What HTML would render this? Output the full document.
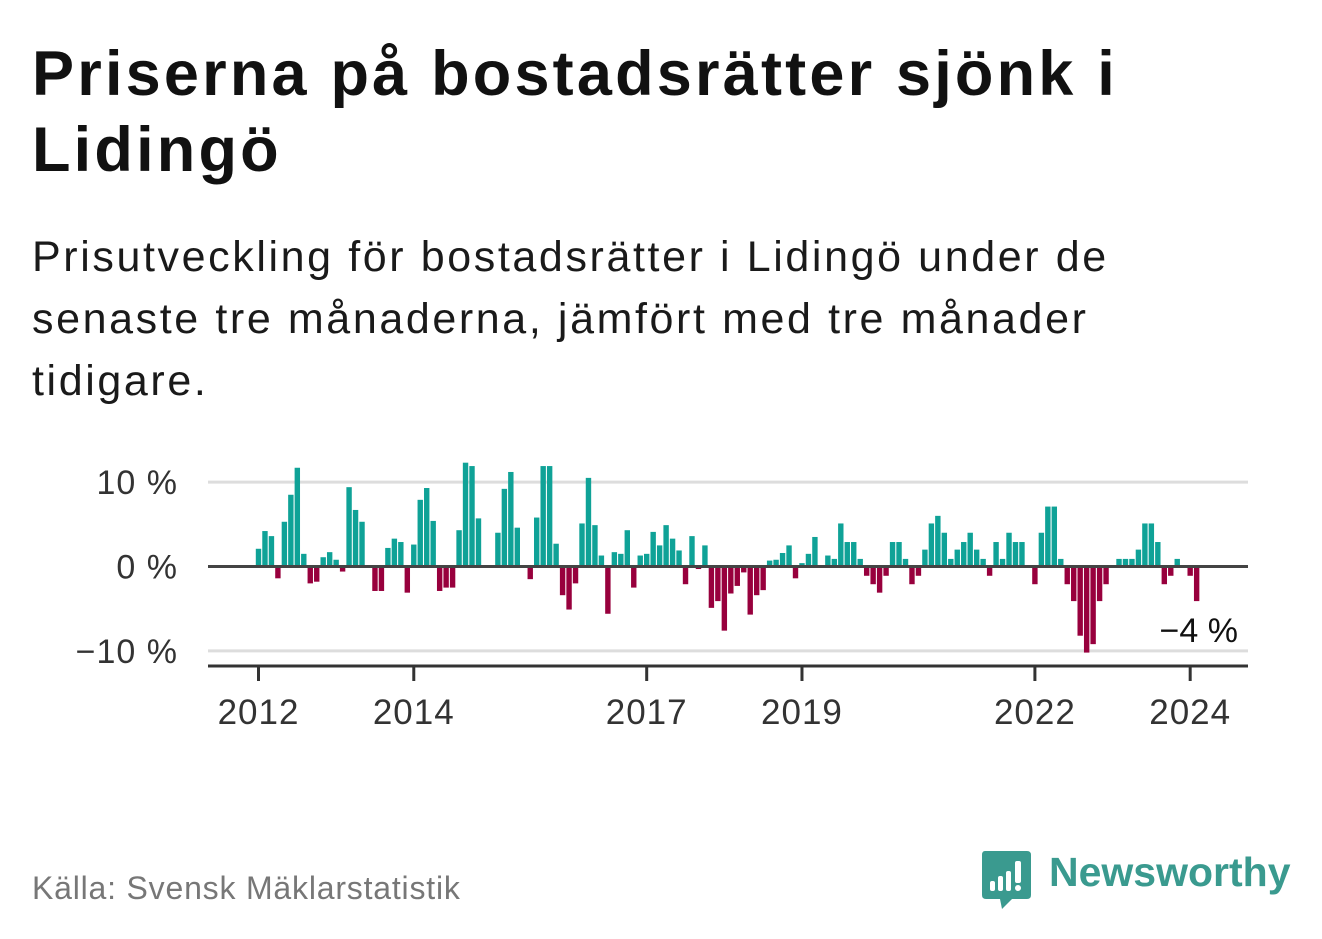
<!DOCTYPE html>
<html><head><meta charset="utf-8"><style>
body{margin:0;background:#fff;width:1322px;height:939px;overflow:hidden;font-family:"Liberation Sans","DejaVu Sans",sans-serif}
.t{position:absolute;left:32px;top:36px;font-size:63px;letter-spacing:3.2px;font-weight:bold;line-height:76px;color:#111;margin:0;white-space:nowrap}
.s{position:absolute;left:32px;top:226px;font-size:43px;letter-spacing:2.6px;line-height:62px;color:#1a1a1a;margin:0;white-space:nowrap}
.src{position:absolute;left:32px;top:870px;font-size:32px;letter-spacing:0.8px;color:#777}
</style></head><body>
<h1 class="t">Priserna på bostadsrätter sjönk i<br>Lidingö</h1>
<p class="s">Prisutveckling för bostadsrätter i Lidingö under de<br>senaste tre månaderna, jämfört med tre månader<br>tidigare.</p>
<svg id="chart" width="1322" height="939" style="position:absolute;left:0;top:0"></svg>
<div class="src">Källa: Svensk Mäklarstatistik</div>
<div style="position:absolute;left:982px;top:851px">
<svg width="50" height="58"><path d="M3 0H45Q49 0 49 4V44Q49 48 45 48H30L20 58L18 48H4Q0 48 0 44V4Q0 0 3 0Z" fill="#3a9a8f"/><rect x="8" y="30" width="5" height="10" rx="2" fill="#fff"/><rect x="16" y="25" width="5" height="15" rx="2" fill="#fff"/><rect x="24" y="20" width="5" height="20" rx="2" fill="#fff"/><rect x="33" y="10" width="6" height="22" rx="2" fill="#fff"/><circle cx="36" cy="37" r="3" fill="#fff"/></svg>
<span style="position:absolute;left:67px;top:-2px;font-size:41px;font-weight:bold;color:#3a9a8f;white-space:nowrap">Newsworthy</span>
</div>
<script>
const values=[2.1,4.2,3.6,-1.4,5.3,8.5,11.7,1.5,-2.0,-1.8,1.1,1.7,
0.8,-0.6,9.4,6.7,5.3,0,-2.9,-2.9,2.2,3.3,2.9,-3.1,
2.6,7.9,9.3,5.4,-2.9,-2.5,-2.5,4.3,12.3,11.9,5.7,0,
0,4.0,9.2,11.2,4.6,0,-1.5,5.8,11.9,11.9,2.7,-3.4,
-5.1,-2.0,5.1,10.5,4.9,1.3,-5.6,1.7,1.5,4.3,-2.5,1.3,
1.5,4.1,2.5,4.9,3.3,1.9,-2.1,3.6,-0.3,2.5,-4.9,-4.1,
-7.6,-3.2,-2.3,-0.7,-5.7,-3.4,-2.8,0.7,0.8,1.6,2.5,-1.4,
0.4,1.5,3.5,0,1.3,0.9,5.1,2.9,2.9,0.9,-1.1,-2.1,
-3.1,-1.1,2.9,2.9,0.9,-2.1,-1.1,2.0,5.1,6.0,4.0,0.9,
2.0,2.9,4.0,2.0,0.9,-1.1,2.9,0.9,4.0,2.9,2.9,0,
-2.1,4.0,7.1,7.1,0.9,-2.1,-4.1,-8.2,-10.2,-9.2,-4.1,-2.1,
0,0.9,0.9,0.9,2.0,5.1,5.1,2.9,-2.1,-1.1,0.9,0,
-1.1,-4.1];
const startYear=2012;
const yTicks=[10,0,-10];
const yTickLabels=["10 %","0 %","−10 %"];
const xTickYears=[2012,2014,2017,2019,2022,2024];
const svg=document.getElementById('chart');
const NS='http://www.w3.org/2000/svg';
const y0=566.5,pxPer=8.44,x0=258.5,mw=6.47;
const Y=v=>y0-v*pxPer;
const X=i=>x0+i*mw;
function mk(t,a){const e=document.createElementNS(NS,t);for(const k in a)e.setAttribute(k,a[k]);svg.appendChild(e);return e;}
yTicks.forEach((v,k)=>{
 if(v!==0){const g=mk('line',{x1:208,x2:1248,y1:Y(v),y2:Y(v),stroke:'#ddd','stroke-width':3});
 
 }
 const t=mk('text',{x:178,y:Y(v)+12,'text-anchor':'end','font-size':34,'letter-spacing':1,fill:'#333','font-family':'Liberation Sans, sans-serif'});
 t.textContent=yTickLabels[k];
 
 
});
values.forEach((v,i)=>{
 const top=v>=0?Y(v):y0,h=Math.abs(v)*pxPer;
 const r=mk('rect',{x:X(i)-2.7,y:top,width:5.4,height:h,fill:v>=0?'#0fa297':'#98003d'});
 
 
});
const z=mk('line',{x1:208,x2:1248,y1:y0,y2:y0,stroke:'#444','stroke-width':3});


const ax=mk('line',{x1:208,x2:1248,y1:666,y2:666,stroke:'#333','stroke-width':3});


xTickYears.forEach(yr=>{
 const x=X((yr-startYear)*12);
 const tk=mk('line',{x1:x,x2:x,y1:666,y2:681,stroke:'#333','stroke-width':3});
 
 
 const t=mk('text',{x:x,y:724,'text-anchor':'middle','font-size':35,'letter-spacing':1,fill:'#333','font-family':'Liberation Sans, sans-serif'});
 t.textContent=String(yr);
 
 
});
const last=values[values.length-1];
const lb=mk('text',{x:1238,y:642,'text-anchor':'end','font-size':34,fill:'#111','font-family':'Liberation Sans, sans-serif'});
lb.textContent=(last<0?'−':'')+Math.abs(Math.round(last))+' %';


</script>
</body></html>
